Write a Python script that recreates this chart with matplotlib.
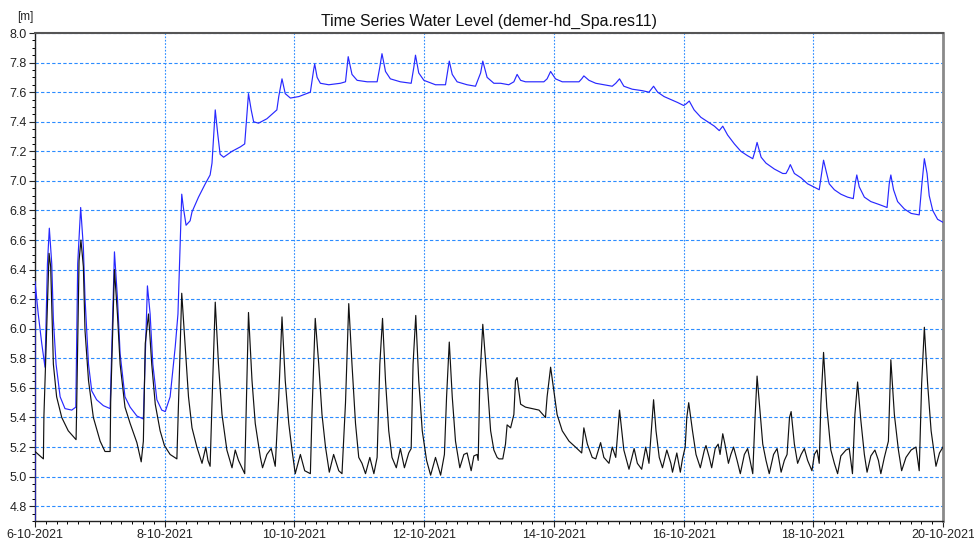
import datetime as dt
import numpy as np
import pandas as pd
import matplotlib
matplotlib.use("Agg")
import matplotlib.pyplot as plt
import matplotlib.dates as mdates
from matplotlib.ticker import MultipleLocator, FuncFormatter

plt.rcParams["font.family"] = ["Liberation Sans", "DejaVu Sans"]

START = dt.datetime(2021, 10, 6)
END = dt.datetime(2021, 10, 20)

# hours since 6-10-2021 00:00, water level [m]
blue_hours = [
    0.0, 0.0, 1.2, 2.5, 3.7, 4.6, 5.3, 6.2, 6.8, 7.8, 9.3, 11.1, 13.6, 15.1,
    15.8, 16.9, 17.9, 18.5, 19.8, 21.0, 22.8, 25.3, 27.8, 28.6, 29.4, 30.5,
    31.5, 33.3, 35.2, 37.7, 40.1, 41.6, 42.6, 43.6, 45.1, 46.9, 48.2, 50.0,
    51.9, 52.9, 54.3, 54.9, 55.9, 57.4, 58.1, 60.5, 63.0, 64.8, 65.5, 66.7,
    67.6, 68.5, 69.8, 72.9, 76.0, 77.6, 78.4, 79.0, 80.0, 80.9, 82.7, 85.8,
    89.5, 90.2, 91.4, 92.6, 94.5, 97.6, 101.9, 103.1, 103.5, 104.4, 105.6,
    108.7, 113.0, 114.9, 115.9, 117.3, 119.2, 122.9, 126.6, 127.6, 128.4,
    129.7, 131.5, 135.2, 139.2, 140.2, 140.8, 142.0, 143.9, 148.2, 151.9,
    152.8, 153.3, 154.4, 156.2, 159.9, 163.0, 164.9, 165.7, 167.3, 169.8,
    172.3, 175.3, 177.2, 178.4, 179.7, 181.5, 188.3, 189.5, 190.8, 192.6,
    195.1, 201.3, 202.3, 203.1, 205.0, 207.5, 213.6, 214.9, 216.3, 217.9,
    221.0, 224.7, 227.2, 228.9, 230.4, 232.8, 235.3, 237.8, 240.0, 240.9,
    242.1, 243.9, 246.4, 248.9, 251.4, 253.2, 254.5, 256.3, 258.8, 261.2,
    263.7, 265.6, 266.4, 267.2, 268.7, 270.5, 273.6, 276.7, 277.9, 278.8,
    279.5, 281.0, 283.5, 285.9, 288.1, 290.2, 291.1, 291.8, 292.7, 293.9,
    295.8, 298.2, 300.7, 302.8, 303.5, 304.1, 305.0, 306.9, 309.3, 312.4,
    315.3, 316.1, 316.7, 317.7, 319.2, 321.7, 324.2, 327.2, 328.1, 329.1,
    330.1, 330.9, 332.2, 334.0, 336.0,
]
blue_level = [
    4.50, 6.32, 6.10, 5.90, 5.74, 6.44, 6.68, 6.44, 6.06, 5.76, 5.54, 5.46, 5.45, 5.47,
    6.44, 6.82, 6.55, 6.21, 5.76, 5.58, 5.52, 5.48, 5.46, 6.00, 6.52, 6.21,
    5.83, 5.54, 5.47, 5.41, 5.39, 6.29, 6.10, 5.76, 5.52, 5.45, 5.44, 5.54,
    5.88, 6.10, 6.91, 6.82, 6.70, 6.73, 6.79, 6.89, 6.98, 7.04, 7.12, 7.48,
    7.32, 7.18, 7.16, 7.20, 7.23, 7.25, 7.45, 7.59, 7.48, 7.40, 7.39, 7.42,
    7.48, 7.57, 7.69, 7.59, 7.56, 7.57, 7.60, 7.75, 7.79, 7.70, 7.66,
    7.65, 7.66, 7.67, 7.84, 7.72, 7.68, 7.67, 7.67, 7.77, 7.86,
    7.74, 7.69, 7.67, 7.66, 7.77, 7.85, 7.73, 7.68, 7.65, 7.65,
    7.75, 7.81, 7.72, 7.67, 7.65, 7.64, 7.73, 7.81, 7.70, 7.66,
    7.66, 7.65, 7.67, 7.72, 7.68, 7.67, 7.67, 7.69, 7.74, 7.69,
    7.67, 7.67, 7.69, 7.71, 7.68, 7.66, 7.64, 7.66, 7.69, 7.64,
    7.62, 7.61, 7.60, 7.64, 7.60, 7.57, 7.55, 7.53, 7.51, 7.52,
    7.54, 7.48, 7.43, 7.40, 7.37, 7.34, 7.37, 7.31, 7.25, 7.20,
    7.17, 7.15, 7.20, 7.26, 7.16, 7.12, 7.08, 7.05, 7.05, 7.08,
    7.11, 7.05, 7.02, 6.98, 6.96, 6.94, 7.05, 7.14, 7.07, 6.98,
    6.94, 6.91, 6.89, 6.88, 6.98, 7.04, 6.96, 6.89, 6.86, 6.84,
    6.82, 6.98, 7.04, 6.94, 6.86, 6.81, 6.78, 6.77, 6.96, 7.15,
    7.05, 6.90, 6.80, 6.74, 6.72,
]

black_hours = [
    0.0, 3.1, 3.3, 4.3, 5.2, 5.8, 6.8, 8.0, 9.9, 12.3, 15.2, 15.4, 16.3, 17.0,
    17.9, 18.5, 19.8, 21.6, 24.1, 25.9, 27.8, 28.0, 29.4, 30.5, 31.5, 33.3,
    35.2, 37.7, 39.3, 40.1, 40.8, 42.0, 43.2, 44.5, 46.3, 47.9, 50.0, 52.5,
    53.1, 54.3, 55.6, 56.8, 58.1, 59.9, 61.8, 63.2, 64.0, 64.8, 65.5, 66.7,
    67.9, 69.2, 71.0, 72.9, 74.1, 75.3, 76.6, 77.6, 78.1, 79.0, 80.3, 81.5,
    83.4, 84.2, 85.8, 87.4, 88.9, 90.2, 91.4, 92.6, 93.9, 95.1, 96.3, 98.2,
    99.8, 101.9, 102.5, 103.7, 105.0, 106.2, 107.5, 108.9, 110.5, 112.4,
    113.6, 114.9, 116.1, 117.3, 118.6, 119.8, 121.0, 122.3, 123.9, 125.4,
    126.6, 127.6, 128.6, 129.7, 130.9, 132.1, 133.7, 135.2, 136.7, 138.3,
    139.2, 139.9, 140.9, 142.0, 143.3, 144.9, 146.4, 148.2, 150.1, 151.5,
    152.3, 153.3, 154.4, 155.6, 157.2, 158.7, 159.9, 161.4, 162.4, 163.6,
    164.0, 164.6, 165.7, 167.3, 168.6, 169.8, 171.0, 171.7, 173.1, 174.1,
    174.7, 176.0, 177.2, 177.8, 178.4, 179.7, 181.5, 184.0, 186.5, 188.9,
    189.5, 190.8, 192.0, 193.2, 195.1, 197.6, 200.0, 202.3, 203.1, 204.4,
    206.2, 207.5, 209.3, 210.5, 212.4, 213.6, 214.9, 216.3, 217.9, 219.8,
    221.7, 222.9, 224.5, 226.0, 227.2, 228.9, 229.8, 231.0, 232.2, 233.8,
    235.3, 235.9, 237.5, 238.8, 239.6, 240.6, 241.2, 241.9, 243.3, 244.6,
    246.2, 247.7, 248.3, 249.5, 250.4, 251.7, 252.8, 253.5, 254.5, 255.3,
    256.6, 257.5, 258.5, 259.8, 261.0, 262.5, 263.7, 265.6, 266.4, 267.2,
    268.4, 269.3, 270.5, 271.7, 273.3, 274.6, 276.1, 277.3, 278.3, 279.2,
    279.8, 281.0, 282.2, 283.5, 284.7, 285.9, 287.5, 288.4, 289.4, 290.2,
    290.8, 291.8, 293.0, 294.5, 295.8, 297.0, 298.2, 300.1, 301.3, 302.5,
    303.4, 304.4, 305.6, 306.9, 307.9, 309.3, 310.8, 312.1, 313.0, 314.3,
    315.8, 316.7, 318.0, 319.5, 320.7, 322.3, 324.2, 326.0, 327.2, 328.1,
    329.1, 330.3, 331.6, 333.4, 334.7, 336.0,
]
black_level = [
    5.17, 5.12, 5.41, 6.00, 6.51, 6.42, 5.76, 5.54, 5.40, 5.31, 5.25, 5.45, 6.46, 6.60,
    6.42, 5.99, 5.65, 5.40, 5.24, 5.17, 5.17, 5.50, 6.40, 6.10, 5.76, 5.47,
    5.36, 5.23, 5.10, 5.24, 5.90, 6.10, 5.76, 5.49, 5.31, 5.21, 5.15, 5.12,
    5.50, 6.24, 5.88, 5.54, 5.33, 5.20, 5.09, 5.20, 5.11, 5.07, 5.50, 6.18,
    5.76, 5.42, 5.18, 5.06, 5.18, 5.11, 5.06, 5.02, 5.40, 6.11, 5.65, 5.36,
    5.13, 5.06, 5.15, 5.19, 5.07, 5.54, 6.08, 5.65, 5.36, 5.18, 5.02, 5.15,
    5.04, 5.02, 5.43, 6.07, 5.76, 5.42, 5.20, 5.03, 5.15, 5.04,
    5.02, 5.50, 6.17, 5.76, 5.36, 5.13, 5.09, 5.02, 5.13, 5.02,
    5.13, 5.76, 6.07, 5.65, 5.31, 5.13, 5.06, 5.19, 5.06, 5.16,
    5.19, 5.76, 6.09, 5.65, 5.31, 5.11, 5.01, 5.13, 5.01, 5.15,
    5.54, 5.91, 5.54, 5.24, 5.06, 5.15, 5.16, 5.04, 5.14, 5.15,
    5.11, 5.65, 6.03, 5.65, 5.31, 5.18, 5.13, 5.12, 5.12, 5.22,
    5.35, 5.33, 5.42, 5.65, 5.67, 5.49, 5.47, 5.46, 5.45, 5.40,
    5.54, 5.74, 5.58, 5.42, 5.31, 5.24, 5.20, 5.16, 5.33, 5.22,
    5.13, 5.12, 5.23, 5.13, 5.09, 5.20, 5.13, 5.45, 5.18, 5.05,
    5.19, 5.09, 5.05, 5.20, 5.09, 5.52, 5.31, 5.13, 5.06, 5.18,
    5.09, 5.03, 5.16, 5.03, 5.12, 5.20, 5.40, 5.50, 5.31, 5.15,
    5.06, 5.18, 5.21, 5.13, 5.06, 5.19, 5.22, 5.15, 5.29, 5.22,
    5.09, 5.15, 5.20, 5.11, 5.02, 5.15, 5.19, 5.02, 5.38, 5.68,
    5.42, 5.22, 5.11, 5.02, 5.15, 5.19, 5.03, 5.11, 5.15, 5.40,
    5.44, 5.22, 5.09, 5.15, 5.19, 5.11, 5.04, 5.15, 5.18, 5.09,
    5.49, 5.84, 5.47, 5.18, 5.09, 5.02, 5.14, 5.18, 5.19, 5.02,
    5.42, 5.64, 5.38, 5.15, 5.03, 5.14, 5.18, 5.11, 5.02, 5.13,
    5.24, 5.79, 5.42, 5.18, 5.04, 5.13, 5.18, 5.20, 5.04, 5.63,
    6.01, 5.63, 5.31, 5.07, 5.16, 5.20,
]

GRID_BLUE = "#2b8cff"


def to_time(hours):
    return [START + dt.timedelta(hours=h) for h in hours]


fig = plt.figure(figsize=(9.74, 5.43), dpi=100)
ax = fig.add_axes([35 / 974, 1 - 521 / 543, 908 / 974, 488 / 543])

ax.plot(to_time(blue_hours), blue_level, color="#2828ff", lw=0.85, zorder=3)
ax.plot(to_time(black_hours), black_level, color="#111111", lw=0.85, zorder=4)

ax.set_xlim(START, END)
ax.set_ylim(4.7, 8.0)

ax.yaxis.set_major_locator(MultipleLocator(0.2))
ax.yaxis.set_minor_locator(MultipleLocator(0.05))
ax.yaxis.set_major_formatter(FuncFormatter(lambda v, _: f"{v:.1f}"))
ax.xaxis.set_major_locator(mdates.DayLocator(bymonthday=list(range(6, 21, 2))))
ax.xaxis.set_minor_locator(mdates.HourLocator(byhour=range(0, 24, 4)))
ax.xaxis.set_major_formatter(FuncFormatter(
    lambda x, _: (lambda d: f"{d.day}-{d.month}-{d.year}")(mdates.num2date(x))))

ax.tick_params(axis="both", which="major", labelsize=9, length=4, width=0.8,
               direction="out", colors="#222222", pad=2)
ax.tick_params(axis="both", which="minor", length=2.5, width=0.7, direction="out")

ax.grid(True, axis="y", which="major", color=GRID_BLUE, lw=0.8, linestyle=(0, (3, 2)))
ax.grid(True, axis="x", which="major", color=GRID_BLUE, lw=0.8, linestyle=(0, (1.5, 1.5)))
ax.set_axisbelow(True)

for side in ("left", "bottom"):
    ax.spines[side].set_color("#222222")
    ax.spines[side].set_linewidth(1.0)
ax.spines["top"].set_color("#555555")
ax.spines["top"].set_linewidth(1.5)
ax.spines["right"].set_color("#8a8a8a")
ax.spines["right"].set_linewidth(2.0)

ax.set_title("Time Series Water Level (demer-hd_Spa.res11)", fontsize=11.4, pad=5,
             color="#111111")
fig.text(17 / 974, 1 - 17 / 543, "[m]", fontsize=8.5, va="center", ha="left", color="#222222")

fig.savefig("out.png", dpi=100)
plt.close(fig)
